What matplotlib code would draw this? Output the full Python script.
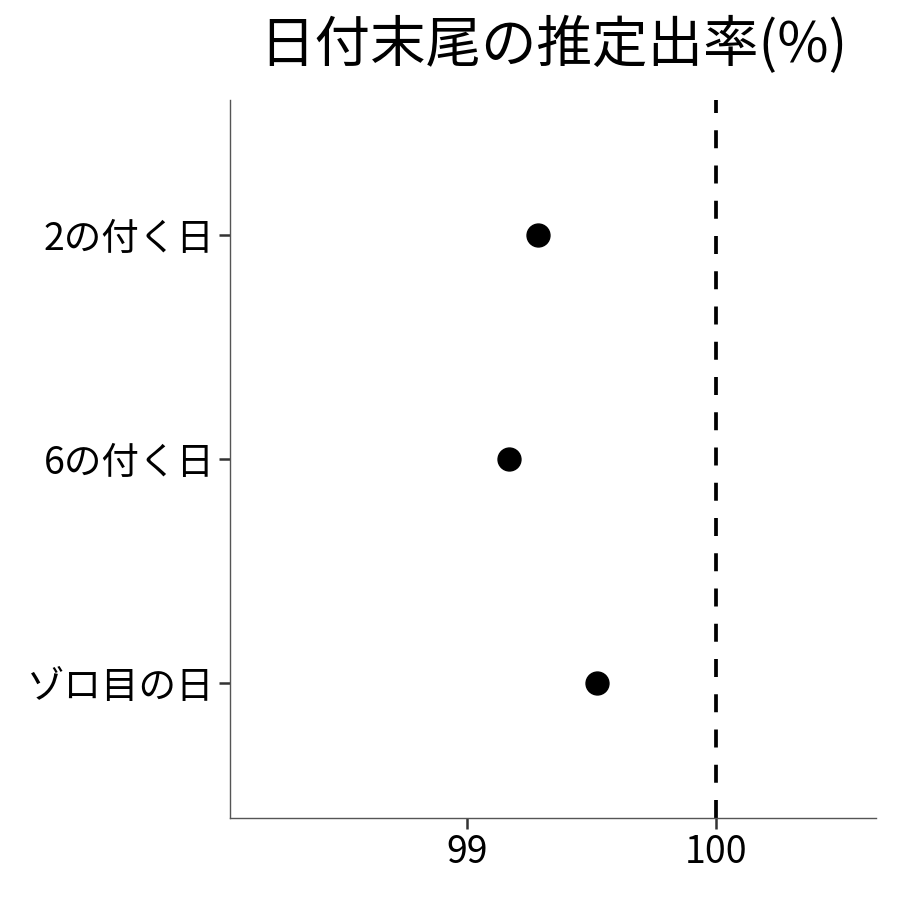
import matplotlib.pyplot as plt

plt.rcParams['font.family'] = ['Noto Sans CJK JP', 'DejaVu Sans']

# Data
categories = ["2の付く日", "6の付く日", "ゾロ目の日"]
estimates = [99.285, 99.169, 99.522]
reference_value = 100
x_ticks = [99, 100]

fig = plt.figure(figsize=(9, 9), dpi=100)
ax = fig.add_axes([230 / 900, 82 / 900, 646 / 900, 718 / 900])

y_pos = list(range(len(categories), 0, -1))
ax.plot(estimates, y_pos, "o", color="black", markersize=16.5, zorder=3)
ax.axvline(reference_value, color="black", linewidth=2.7,
           dashes=(4.8, 4.6), zorder=2)

ax.set_xlim(98.048, 100.643)
ax.set_ylim(0.4, len(categories) + 0.6)
ax.set_xticks(x_ticks)
ax.set_xticklabels([str(t) for t in x_ticks])
ax.set_yticks(y_pos)
ax.set_yticklabels(categories)

for side in ["top", "right"]:
    ax.spines[side].set_visible(False)
for side in ["left", "bottom"]:
    ax.spines[side].set_color("#555555")
    ax.spines[side].set_linewidth(1.0)

ax.tick_params(axis="both", length=8, width=1.8, color="#333333",
               labelsize=27, labelcolor="black", pad=3)

ax.set_title("日付末尾の推定出率(%)", fontsize=40, pad=27)

fig.savefig("out.png", dpi=100)
